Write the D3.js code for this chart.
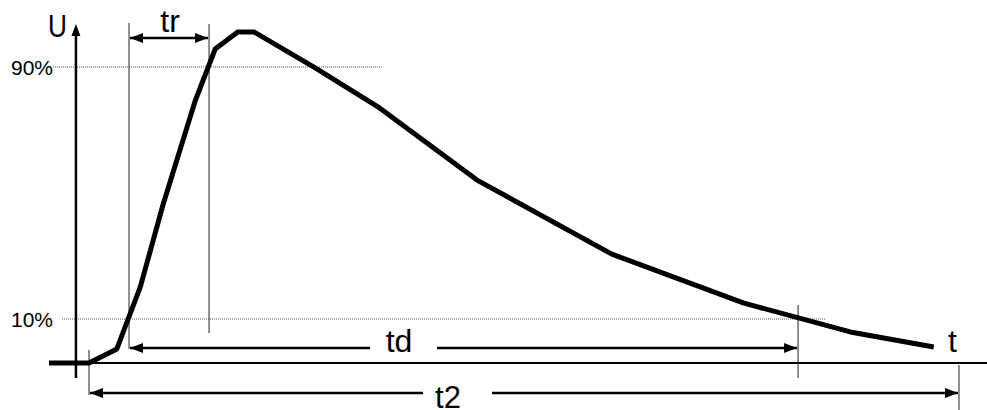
<!DOCTYPE html>
<html>
<head>
<meta charset="utf-8">
<script src="https://cdn.jsdelivr.net/npm/d3@7"></script>
<style>
  html, body { margin: 0; padding: 0; background: #fff; }
  svg { display: block; }
  text { font-family: "Liberation Sans", Arial, sans-serif; fill: #000; }
</style>
</head>
<body>
<svg id="chart" width="987" height="410"></svg>
<script>
// ---- data (time in % of t2, voltage in % of peak levels) ----
const curveTime    = [-4.6, 0, 3.2, 5.9, 8.5, 12.2, 14.5, 17.1, 19.0, 26.0, 33.4, 44.6, 60.1, 75.2, 87.5, 97.1];
const curveVoltage = [-4.0, -4.0, 0.5, 20.2, 46.2, 79.2, 95.7, 101.1, 101.1, 89.7, 77.0, 54.1, 30.6, 15.1, 5.9, 1.1];
const levelValues  = [90, 10];
const levelLabels  = ["90%", "10%"];
const levelEnds    = [33.8, 84.6];     // time where dotted level line ends
const trStart = 4.6, trEnd = 13.8, tdEnd = 81.5, t2Start = 0, t2End = 100;
const baseValue = -4.0;
const intervalLabels = ["tr", "td", "t2"];
const axisLabels = ["U", "t"];

// ---- scales ----
const x = d3.scaleLinear().domain([0, 100]).range([89, 959]);
const y = d3.scaleLinear().domain([10, 90]).range([319, 67]);

const svg = d3.select("#chart");
const axisX = x(-1.5);

// arrowhead markers
const defs = svg.append("defs");
function marker(id, orient) {
  defs.append("marker")
    .attr("id", id).attr("viewBox", "0 0 13 10")
    .attr("refX", 13).attr("refY", 5)
    .attr("markerWidth", 13).attr("markerHeight", 10)
    .attr("markerUnits", "userSpaceOnUse")
    .attr("orient", orient)
    .append("path").attr("d", "M0,0 L13,5 L0,10 Z").attr("fill", "#000");
}
marker("arrEnd", "auto");
marker("arrStart", "auto-start-reverse");

// ---- dotted level lines ----
levelValues.forEach((v, i) => {
  svg.append("line")
    .attr("x1", i === 0 ? 53 : 62).attr("x2", x(levelEnds[i]))
    .attr("y1", y(v)).attr("y2", y(v))
    .attr("stroke", "#555").attr("stroke-width", 1)
    .attr("stroke-dasharray", "1,1");
  svg.append("text")
    .attr("x", 53).attr("y", y(v) + 8)
    .attr("text-anchor", "end")
    .attr("font-size", 21)
    .text(levelLabels[i]);
});

// ---- axes ----
svg.append("line")
  .attr("x1", 50).attr("x2", 987)
  .attr("y1", y(baseValue)).attr("y2", y(baseValue))
  .attr("stroke", "#000").attr("stroke-width", 2);
svg.append("line")
  .attr("x1", axisX).attr("x2", axisX)
  .attr("y1", y(baseValue) + 15).attr("y2", 33)
  .attr("stroke", "#000").attr("stroke-width", 2.5);
svg.append("path")
  .attr("d", `M${axisX - 4.5},36 L${axisX},24 L${axisX + 4.5},36 Z`)
  .attr("fill", "#000");
svg.append("text").attr("x", 48).attr("y", 37).attr("font-size", 32)
  .attr("transform", "translate(48,37) scale(0.82,1) translate(-48,-37)")
  .text(axisLabels[0]);
svg.append("text").attr("x", 948).attr("y", 352).attr("font-size", 32).text(axisLabels[1]);

// ---- vertical marker lines ----
const vlines = [
  [trStart, 23, 349],
  [trEnd, 24, 333],
  [tdEnd, 305, 378],
  [t2Start, 350, 395],
  [t2End, 365, 410]
];
vlines.forEach(([t, y1, y2]) => {
  svg.append("line")
    .attr("x1", x(t)).attr("x2", x(t)).attr("y1", y1).attr("y2", y2)
    .attr("stroke", "#222").attr("stroke-width", 1);
});

// ---- interval arrows ----
function arrowSeg(x1, x2, yy, start, end) {
  const l = svg.append("line")
    .attr("x1", x1).attr("x2", x2).attr("y1", yy).attr("y2", yy)
    .attr("stroke", "#000").attr("stroke-width", 2.5);
  if (start) l.attr("marker-start", "url(#arrStart)");
  if (end) l.attr("marker-end", "url(#arrEnd)");
}
// tr
arrowSeg(x(trStart) + 1, x(trEnd) - 1, 38, true, true);
svg.append("text").attr("x", (x(trStart) + x(trEnd)) / 2 + 1).attr("y", 32)
  .attr("text-anchor", "middle").attr("font-size", 32).text(intervalLabels[0]);
// td
arrowSeg(x(trStart) + 1, 370, 348, true, false);
arrowSeg(437, x(tdEnd) - 1, 348, false, true);
svg.append("text").attr("x", 399).attr("y", 352)
  .attr("text-anchor", "middle").attr("font-size", 32).text(intervalLabels[1]);
// t2
arrowSeg(x(t2Start) + 1, 423, 393, true, false);
arrowSeg(492, x(t2End) - 1, 393, false, true);
svg.append("text").attr("x", 448).attr("y", 408)
  .attr("text-anchor", "middle").attr("font-size", 31).text(intervalLabels[2]);

// ---- curve ----
const pts = curveTime.map((t, i) => [t, curveVoltage[i]]);
const line = d3.line().x(d => x(d[0])).y(d => y(d[1]));
svg.append("path")
  .datum(pts)
  .attr("d", line)
  .attr("fill", "none")
  .attr("stroke", "#000")
  .attr("stroke-width", 5)
  .attr("stroke-linejoin", "round");
</script>
</body>
</html>
